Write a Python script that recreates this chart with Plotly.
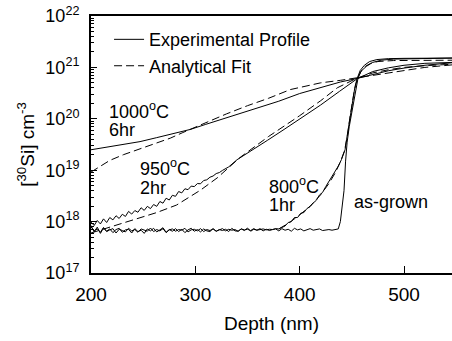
import numpy as np
import plotly.graph_objects as go

# ---------------- data (depth in nm, [30Si] in cm^-3) ----------------
# as-grown: noisy baseline sampled every 3 nm from 200 nm, then the interface rise
asgrown_base_start = 200
asgrown_base_step = 3
asgrown_base = [8.4e17, 6.3e17, 7.8e17, 5.9e17, 7.5e17, 6.5e17, 7.2e17, 6.1e17, 7.0e17, 7.4e17,
                6.2e17, 6.9e17, 7.1e17, 6.0e17, 7.3e17, 6.4e17, 6.8e17, 5.9e17, 7.2e17, 6.6e17,
                7.4e17, 6.3e17, 6.9e17, 7.6e17, 6.2e17, 7.0e17, 6.5e17, 7.3e17, 6.4e17, 7.1e17,
                6.1e17, 6.9e17, 7.4e17, 6.5e17, 7.0e17, 6.3e17, 7.2e17, 6.6e17, 6.4e17, 7.3e17,
                6.5e17, 7.0e17, 6.7e17, 7.1e17, 6.4e17, 7.4e17, 6.6e17, 6.5e17, 7.2e17, 6.7e17,
                7.5e17, 6.5e17, 7.1e17, 6.8e17, 7.3e17, 6.6e17, 7.1e17, 6.7e17, 7.0e17, 7.2e17,
                6.6e17, 7.3e17, 6.8e17, 7.1e17, 6.5e17, 7.4e17, 6.9e17, 7.2e17, 6.6e17, 7.0e17,
                7.3e17, 6.8e17, 7.0e17, 7.2e17, 6.7e17, 6.9e17, 7.0e17, 6.8e17, 6.9e17]
asgrown_rise_depth = [437, 439, 441, 442.5, 444, 445.5, 447.5, 450, 452, 454, 456, 459, 464, 470,
                      478, 490, 515, 546]
asgrown_rise = [7.2e17, 1.0e18, 2.0e18, 4.0e18, 1.5e19, 3.5e19, 7.0e19, 1.4e20, 2.5e20, 4.0e20,
                6.3e20, 8.5e20, 1.05e21, 1.25e21, 1.38e21, 1.45e21, 1.5e21, 1.52e21]

# 800 C 1 hr
exp800_base_start = 200
exp800_base_step = 3
exp800_base = [7.9e17, 6.6e17, 7.2e17, 6.2e17, 7.7e17, 6.4e17, 6.9e17, 7.3e17, 6.0e17, 7.1e17,
               6.7e17, 6.3e17, 7.4e17, 6.6e17, 7.0e17, 6.2e17, 7.2e17, 6.8e17, 6.5e17, 7.5e17,
               6.4e17, 7.0e17, 6.6e17, 7.3e17, 6.1e17, 6.9e17, 7.2e17, 6.5e17, 7.0e17, 6.8e17,
               7.4e17, 6.3e17, 6.9e17, 7.1e17, 6.6e17, 7.3e17, 6.4e17, 7.0e17, 6.7e17, 7.2e17,
               6.5e17, 6.9e17, 7.3e17, 6.6e17, 7.1e17, 6.8e17, 7.0e17, 6.5e17, 7.2e17, 6.9e17,
               7.1e17, 6.7e17, 7.3e17, 6.8e17, 7.0e17, 7.2e17, 6.9e17, 7.1e17, 7.0e17, 7.3e17,
               7.2e17]
exp800_rise_depth = [383, 386, 389, 392, 395, 398, 401, 404, 407, 410, 413, 416, 419, 422, 425, 428,
                     431, 434, 437, 440, 442, 443.5, 445, 447, 449, 451, 453, 455, 458, 462, 467,
                     474, 485, 500, 520, 546]
exp800_rise = [7.8e17, 8.2e17, 9.6e17, 1.0e18, 1.2e18, 1.2e18, 1.45e18, 1.5e18, 1.8e18, 1.95e18,
               2.3e18, 2.6e18, 3.3e18, 3.7e18, 4.8e18, 6.0e18, 7.6e18, 9.2e18, 1.2e19, 1.6e19,
               2.0e19, 2.5e19, 4.0e19, 7.5e19, 1.5e20, 2.6e20, 4.2e20, 6.0e20, 8.7e20, 1.1e21,
               1.3e21, 1.42e21, 1.48e21, 1.5e21, 1.52e21, 1.52e21]
fit800_depth = [380, 390, 400, 410, 420, 428, 434, 439, 443, 446, 448, 450, 452, 454, 456, 459,
                463, 468, 475, 490, 515, 546]
fit800 = [7.2e17, 9.5e17, 1.35e18, 2.0e18, 3.3e18, 5.5e18, 8.8e18, 1.45e19, 2.4e19, 5.0e19, 1.0e20,
          1.9e20, 3.2e20, 4.8e20, 6.5e20, 8.5e20, 1.05e21, 1.2e21, 1.3e21, 1.36e21, 1.38e21, 1.38e21]

# 950 C 2 hr
exp950_noisy_start = 200
exp950_noisy_step = 3
exp950_noisy = [9.8e17, 8.4e17, 10.5e17, 9.0e17, 11.3e17, 9.6e17, 12.0e17, 10.8e17, 13.0e17, 11.5e17,
                13.9e17, 12.6e17, 15.8e17, 14.0e17, 16.4e17, 15.2e17, 18.6e17, 16.5e17, 19.8e17, 17.9e17,
                21.5e17, 19.8e17, 24.6e17, 22.8e17, 28.5e17, 26.3e17, 32.5e17, 31.0e17, 38.5e17, 36.2e17,
                43.5e17, 41.8e17, 49.0e17, 48.0e17, 55.0e17, 54.5e17, 63.0e17, 65.0e17, 73.0e17, 77.0e17,
                86.0e17, 90.0e17, 99.0e17, 106e17, 116e17]
exp950_smooth_depth = [340, 355, 369, 385, 400, 420, 438, 455, 470, 485, 500, 520, 546]
exp950_smooth = [1.6e19, 2.55e19, 3.8e19, 6.2e19, 9.8e19, 1.85e20, 3.4e20, 6.0e20, 8.3e20, 9.8e20,
                 1.1e21, 1.2e21, 1.25e21]
fit950_depth = [200, 211, 221, 231, 247, 263, 282, 295, 305, 321, 343, 370, 400, 420, 436, 455, 470,
                485, 500, 520, 546]
fit950 = [6.0e17, 7.0e17, 8.2e17, 9.3e17, 1.2e18, 1.5e18, 2.1e18, 3.0e18, 4.1e18, 7.1e18, 1.78e19,
          4.5e19, 1.15e20, 2.24e20, 4.0e20, 6.2e20, 7.8e20, 9.0e20, 1.0e21, 1.08e21, 1.15e21]

# 1000 C 6 hr
exp1000_depth = [200, 215, 230, 247, 263, 280, 295, 310, 324, 340, 360, 380, 400, 420, 439, 455,
                 470, 485, 500, 520, 546]
exp1000 = [2.5e19, 2.8e19, 3.1e19, 3.6e19, 4.3e19, 5.2e19, 6.2e19, 7.8e19, 9.6e19, 1.2e20, 1.6e20,
           2.2e20, 3.1e20, 4.1e20, 5.2e20, 6.1e20, 7.3e20, 8.6e20, 9.7e20, 1.1e21, 1.23e21]
fit1000_depth = [200, 209, 218, 231, 247, 263, 276, 288, 300, 314, 330, 350, 370, 391, 410, 420,
                 439, 455, 470, 485, 500, 520, 546]
fit1000 = [9.2e18, 1.2e19, 1.55e19, 2.0e19, 2.6e19, 3.4e19, 4.2e19, 5.4e19, 6.9e19, 9.0e19, 1.25e20,
           1.8e20, 2.5e20, 3.7e20, 4.6e20, 5.0e20, 5.6e20, 6.3e20, 7.0e20, 7.9e20, 8.8e20, 1.0e21, 1.12e21]

ytick_vals = [1e17, 1e18, 1e19, 1e20, 1e21, 1e22]
ytick_text = ["10<sup>17</sup>", "10<sup>18</sup>", "10<sup>19</sup>", "10<sup>20</sup>",
              "10<sup>21</sup>", "10<sup>22</sup>"]
xtick_vals = [200, 300, 400, 500]

# ---------------- build series ----------------
def grid(start, step, vals):
    return list(start + step * np.arange(len(vals)))

asgrown_x = grid(asgrown_base_start, asgrown_base_step, asgrown_base) + asgrown_rise_depth
asgrown_y = asgrown_base + asgrown_rise
exp800_x = grid(exp800_base_start, exp800_base_step, exp800_base) + exp800_rise_depth
exp800_y = exp800_base + exp800_rise
exp950_x = grid(exp950_noisy_start, exp950_noisy_step, exp950_noisy) + exp950_smooth_depth
exp950_y = exp950_noisy + exp950_smooth

FONT = "Liberation Sans, Arial, Helvetica, sans-serif"
solid = dict(color="black", width=1)
dashed = dict(color="black", width=1, dash="8px,4px")

fig = go.Figure()
series = [
    (exp1000_depth, exp1000, solid, "Experimental Profile", True),
    (fit1000_depth, fit1000, dashed, "Analytical Fit", True),
    (exp950_x, exp950_y, solid, "950 exp", False),
    (fit950_depth, fit950, dashed, "950 fit", False),
    (exp800_x, exp800_y, solid, "800 exp", False),
    (fit800_depth, fit800, dashed, "800 fit", False),
    (asgrown_x, asgrown_y, solid, "as-grown", False),
]
for x, y, ln, name, show in series:
    fig.add_trace(go.Scatter(x=x, y=y, mode="lines", line=ln, name=name, showlegend=show))

minor_vals = [k * 10.0 ** e for e in range(17, 22) for k in range(2, 10)]

fig.update_layout(
    width=452, height=341,
    margin=dict(l=91, r=0, t=16, b=68),
    paper_bgcolor="white", plot_bgcolor="white",
    font=dict(family=FONT, size=19, color="black"),
    legend=dict(x=0.05, y=0.98, xanchor="left", yanchor="top", bgcolor="rgba(0,0,0,0)",
                font=dict(size=18), itemwidth=30, tracegroupgap=0),
    xaxis=dict(range=[200, 546], tickvals=xtick_vals, ticks="inside", ticklen=7, tickwidth=1,
               tickcolor="black", showline=True, linewidth=2, linecolor="black", mirror=True,
               showgrid=False, zeroline=False, tickfont=dict(size=19), ticklabelstandoff=3,
               title=dict(text="Depth (nm)", font=dict(size=19), standoff=13)),
    yaxis=dict(type="log", range=[17, 22], tickvals=ytick_vals, ticktext=ytick_text,
               ticks="inside", ticklen=6, tickwidth=1, tickcolor="black",
               minor=dict(tickvals=minor_vals, ticks="inside", ticklen=3, tickcolor="black", showgrid=False),
               showline=True, linewidth=2, linecolor="black", showgrid=False, zeroline=False,
               tickfont=dict(size=18), ticklabelstandoff=6,
               title=dict(text="[<sup>30</sup>Si] cm<sup>-3</sup>", font=dict(size=19), standoff=6)),
)

labels = [
    ("1000<sup>o</sup>C", 215, 20.17),
    ("6hr", 215, 19.78),
    ("950<sup>o</sup>C", 245, 19.06),
    ("2hr", 245, 18.65),
    ("800<sup>o</sup>C", 369, 18.71),
    ("1hr", 369, 18.32),
    ("as-grown", 450, 18.38),
]
for txt, lx, ly in labels:
    fig.add_annotation(text=txt, x=lx, y=ly, xref="x", yref="y", showarrow=False,
                       xanchor="left", yanchor="middle", font=dict(size=18, family=FONT, color="black"))

fig.write_html("out.html")
